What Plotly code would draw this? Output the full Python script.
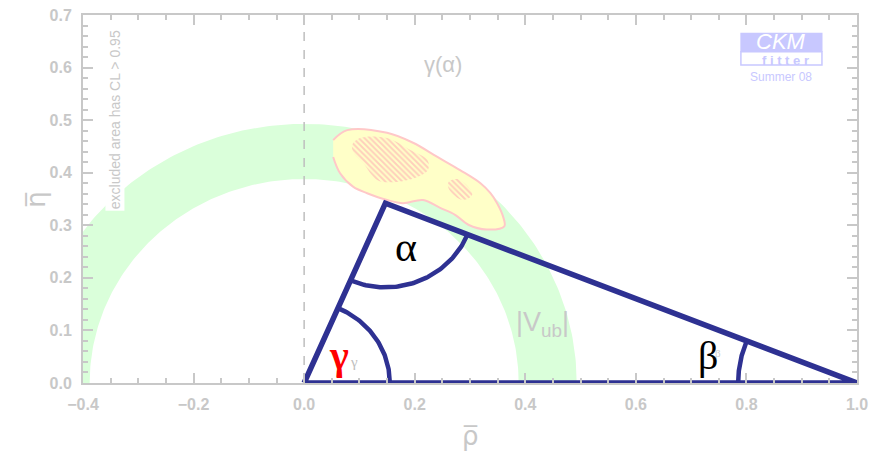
import numpy as np
import plotly.graph_objects as go

# Unitarity triangle apex and angle-arc radii
apex_rho, apex_eta = 0.147, 0.342
r_gamma, r_alpha, r_beta = 0.155, 0.16, 0.215

# |Vub| ring (radii around the origin)
vub_inner, vub_outer = 0.388, 0.493

# gamma(alpha) allowed region outline
blob_rho = [0.0525, 0.078, 0.150, 0.197, 0.241, 0.282, 0.319, 0.337, 0.349, 0.360, 0.362,
            0.330, 0.297, 0.273, 0.246, 0.215, 0.179, 0.150, 0.114, 0.089, 0.065, 0.0525]
blob_eta = [0.462, 0.481, 0.476, 0.457, 0.430, 0.405, 0.380, 0.361, 0.342, 0.316, 0.298,
            0.292, 0.301, 0.320, 0.333, 0.348, 0.342, 0.348, 0.361, 0.373, 0.399, 0.430]

# inner (higher CL) islands
core1_rho = [0.087, 0.101, 0.150, 0.192, 0.223, 0.224, 0.205, 0.161, 0.132, 0.107, 0.089]
core1_eta = [0.453, 0.466, 0.466, 0.443, 0.424, 0.405, 0.392, 0.382, 0.386, 0.418, 0.439]
core2_rho = [0.261, 0.277, 0.297, 0.304, 0.288, 0.270, 0.261]
core2_eta = [0.382, 0.388, 0.373, 0.358, 0.348, 0.358, 0.371]

x_ticks = [-0.4, -0.2, 0.0, 0.2, 0.4, 0.6, 0.8, 1.0]
x_tick_labels = ["\u22120.4", "\u22120.2", "0.0", "0.2", "0.4", "0.6", "0.8", "1.0"]
y_ticks = [0.0, 0.1, 0.2, 0.3, 0.4, 0.5, 0.6, 0.7]
y_tick_labels = ["0.0", "0.1", "0.2", "0.3", "0.4", "0.5", "0.6", "0.7"]

GRAY = "rgb(200,200,200)"
NAVY = "rgb(46,49,146)"
LAV = "rgb(200,200,255)"

fig = go.Figure()

# |Vub| ring
t = np.linspace(0, np.pi, 200)
ring_x = np.concatenate([vub_outer * np.cos(t), vub_inner * np.cos(t[::-1])])
ring_y = np.concatenate([vub_outer * np.sin(t), vub_inner * np.sin(t[::-1])])
fig.add_trace(go.Scatter(x=ring_x, y=ring_y, fill="toself", mode="lines",
                         line=dict(width=0), fillcolor="rgb(218,255,218)", hoverinfo="skip"))

# dashed rho = 0 line
fig.add_trace(go.Scatter(x=[0, 0], y=[0, 0.7], mode="lines",
                         line=dict(color="rgb(190,190,190)", width=1.5, dash="dash"), hoverinfo="skip"))

# gamma(alpha) region
fig.add_trace(go.Scatter(x=blob_rho, y=blob_eta, fill="toself", mode="lines",
                         line=dict(color="rgb(255,200,200)", width=2, shape="spline"),
                         fillcolor="rgb(255,255,200)", hoverinfo="skip"))
for cx, cy in [(core1_rho, core1_eta), (core2_rho, core2_eta)]:
    fig.add_trace(go.Scatter(x=cx + cx[:1], y=cy + cy[:1], fill="toself", mode="lines",
                             line=dict(width=0, shape="spline"),
                             fillcolor="rgba(0,0,0,0)",
                             fillpattern=dict(shape="\\", fgcolor="rgb(255,160,175)",
                                              bgcolor="rgba(0,0,0,0)", size=4, solidity=0.5),
                             hoverinfo="skip"))

# triangle
fig.add_trace(go.Scatter(x=[0, 1, apex_rho, 0], y=[0, 0, apex_eta, 0], mode="lines",
                         line=dict(color=NAVY, width=5.5), hoverinfo="skip"))


def arc(cx, cy, r, a0, a1):
    a = np.linspace(a0, a1, 80)
    return cx + r * np.cos(a), cy + r * np.sin(a)


ang_left = np.arctan2(apex_eta, apex_rho)
ang_right = np.arctan2(apex_eta, apex_rho - 1)
gx, gy = arc(0, 0, r_gamma, 0, ang_left)
ax_, ay_ = arc(apex_rho, apex_eta, r_alpha, ang_left + np.pi, ang_right + np.pi)
bx, by = arc(1, 0, r_beta, ang_right, np.pi)
for xs, ys in [(gx, gy), (ax_, ay_), (bx, by)]:
    fig.add_trace(go.Scatter(x=xs, y=ys, mode="lines", line=dict(color=NAVY, width=4.5),
                             hoverinfo="skip"))

serif = "Liberation Serif"
ann = [
    dict(x=0.185, y=0.258, text="\u03b1", font=dict(family=serif, size=42, color="black")),
    dict(x=0.748, y=0.058, text="\u03b2", font=dict(family=serif, size=11, color="rgb(205,205,205)")),
    dict(x=0.730, y=0.052, text="\u03b2", font=dict(family=serif, size=40, color="black")),
    dict(x=0.090, y=0.040, text="\u03b3", font=dict(family=serif, size=15, color="rgb(190,190,190)")),
    dict(x=0.063, y=0.052, text="<b>\u03b3</b>", font=dict(family=serif, size=40, color="red")),
    dict(x=0.252, y=0.605, text="\u03b3(\u03b1)", font=dict(family="Liberation Sans", size=22, color=GRAY)),
    dict(x=0.432, y=0.112, text="|V<sub>ub</sub>|", font=dict(family="Liberation Sans", size=27, color=GRAY)),
    dict(x=0.862, y=0.649, text="<i>CKM</i>", font=dict(family="Liberation Sans", size=22, color="white")),
    dict(x=0.870, y=0.613, text="<b>f i t t e r</b>", font=dict(family="Liberation Sans", size=13, color=LAV)),
    dict(x=0.862, y=0.583, text="Summer 08", font=dict(family="Liberation Sans", size=12, color=LAV)),
    dict(x=-0.342, y=0.50, text="excluded area has CL > 0.95", textangle=-90, bgcolor="white",
         font=dict(family="Liberation Sans", size=14, color=GRAY)),
]
for a in ann:
    a.update(showarrow=False, xref="x", yref="y")
    fig.add_annotation(**a)

# axis titles
fig.add_annotation(x=0.5, y=-0.19, xref="paper", yref="paper", showarrow=False,
                   text="\u03c1\u0305", font=dict(family="DejaVu Sans", size=26, color=GRAY))
fig.add_annotation(x=-0.083, y=0.497, xref="paper", yref="paper", showarrow=False, textangle=-90,
                   text="\u03b7\u0305", font=dict(family="DejaVu Sans", size=26, color=GRAY))

# logo boxes
fig.add_shape(type="rect", xref="x", yref="y", x0=0.789, x1=0.9376, y0=0.630, y1=0.666,
              fillcolor=LAV, line=dict(width=0), layer="below")
fig.add_shape(type="rect", xref="x", yref="y", x0=0.790, x1=0.9366, y0=0.605, y1=0.630,
              fillcolor="white", line=dict(width=1.5, color=LAV), layer="below")

axis_common = dict(showgrid=False, zeroline=False, showline=True, linecolor=GRAY, linewidth=2,
                   mirror="allticks", ticks="inside", ticklen=10, tickwidth=1.5, tickcolor=GRAY,
                   automargin=False, ticklabelstandoff=6,
                   tickfont=dict(family="Liberation Sans", size=16, color=GRAY, weight="bold"))
fig.update_xaxes(range=[-0.4, 1.0], tickvals=x_ticks, ticktext=x_tick_labels,
                 minor=dict(dtick=0.05, ticks="inside", ticklen=5, tickcolor=GRAY, tickwidth=1.5),
                 **axis_common)
fig.update_yaxes(range=[0, 0.7], tickvals=y_ticks, ticktext=y_tick_labels,
                 minor=dict(dtick=0.02, ticks="inside", ticklen=5, tickcolor=GRAY, tickwidth=1.5),
                 **axis_common)

fig.update_layout(width=869, height=452, margin=dict(l=83, r=12, t=15, b=69),
                  plot_bgcolor="white", paper_bgcolor="white", showlegend=False)

fig.write_html("out.html")
